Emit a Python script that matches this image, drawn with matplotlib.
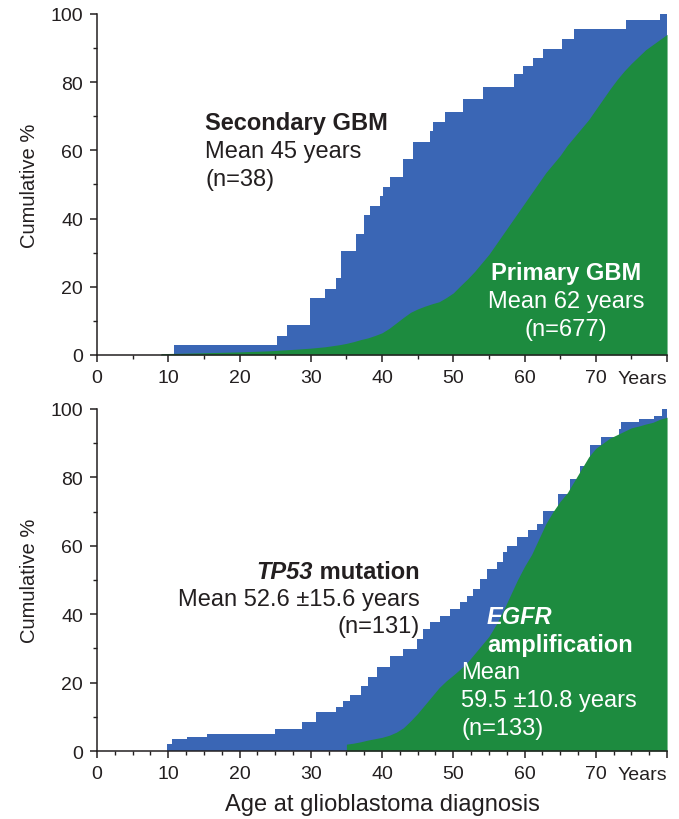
"""Cumulative age distribution of glioblastoma subtypes (two stacked panels)."""

import matplotlib

matplotlib.use("Agg")
import matplotlib.pyplot as plt
from matplotlib.ticker import MultipleLocator

plt.rcParams["font.family"] = ["Liberation Sans", "DejaVu Sans"]

BLUE = "#3a66b5"
GREEN = "#1d8b3f"
INK = "#231f20"
ANNOT = 17

# --- top panel: secondary GBM (blue, step) and primary GBM (green) ---
secondary_age = [0, 10.8, 25.2, 26.6, 29.9, 32.0, 33.6, 34.3, 36.4, 37.4, 38.3, 39.7,
                 40.2, 41.1, 42.9, 44.4, 46.7, 47.2, 48.8, 51.4, 54.2, 58.5, 59.8,
                 61.2, 62.6, 65.2, 66.9, 74.3, 79.0, 80]
secondary_pct = [0, 2.9, 5.6, 8.8, 16.7, 19.4, 22.6, 30.4, 35.5, 40.9, 43.8, 46.7,
                 49.2, 52.1, 57.5, 62.4, 65.8, 68.2, 71.2, 75.0, 78.5, 82.3, 84.8,
                 87.2, 89.6, 92.6, 95.5, 98.1, 100, 100]

primary_age = [0, 8.9, 9, 12, 16, 20, 24, 28, 30, 32, 34, 35, 36, 37, 38, 39, 40, 41,
               42, 43, 44, 45, 46, 47, 48, 49, 50, 51, 52, 53, 54, 55, 56, 57, 58, 59,
               60, 61, 62, 63, 64, 65, 66, 67, 68, 69, 70, 71, 72, 73, 74, 75, 76, 77,
               78, 79, 80]
primary_pct = [0, 0, 0.4, 0.5, 0.7, 0.9, 1.2, 1.7, 2.0, 2.4, 3.0, 3.4, 3.9, 4.5, 5.0,
               5.7, 6.5, 7.8, 9.4, 11.0, 12.5, 13.5, 14.3, 15.0, 15.6, 16.8, 18.2,
               20.3, 22.3, 24.5, 27.0, 29.5, 32.5, 35.5, 38.5, 41.5, 44.5, 47.5, 50.5,
               53.5, 56.0, 58.5, 61.5, 64.0, 66.5, 69.0, 72.0, 75.0, 78.0, 80.8, 83.3,
               85.5, 87.5, 89.5, 91.0, 92.5, 94.0]

# --- bottom panel: TP53 mutation (blue, step) and EGFR amplification (green) ---
tp53_age = [0, 9.8, 10.5, 12.6, 15.4, 25.0, 28.7, 30.8, 33.5, 34.5, 35.5, 37.0, 38.0,
            39.3, 41.1, 43.0, 44.9, 45.8, 46.7, 48.1, 49.5, 50.9, 51.9, 52.8, 53.8,
            54.7, 56.1, 57.0, 57.5, 58.9, 60.5, 61.7, 62.6, 64.7, 66.4, 67.8, 69.2,
            70.8, 73.2, 73.6, 76.0, 78.1, 79.3, 80]
tp53_pct = [0, 2.0, 3.5, 4.0, 5.0, 6.4, 8.4, 11.3, 13.0, 14.5, 16.5, 19.0, 21.5, 24.5,
            27.9, 29.8, 32.7, 35.7, 37.6, 39.6, 41.5, 43.5, 45.4, 47.4, 50.3, 53.2,
            55.2, 58.1, 60.0, 62.5, 64.5, 66.4, 70.3, 75.1, 79.5, 83.4, 89.5, 91.7,
            94.2, 96.1, 97.1, 98.0, 100, 100]

egfr_age = [0, 35, 35, 36, 37, 38, 39, 40, 41, 42, 43, 44, 45, 46, 47, 48, 49, 50, 51,
            52, 53, 54, 55, 56, 57, 58, 59, 60, 61, 62, 63, 64, 65, 66, 67, 68, 69, 70,
            71, 72, 73, 74, 75, 76, 77, 78, 79, 80]
egfr_pct = [0, 0, 2.0, 2.3, 2.7, 3.2, 3.6, 4.0, 4.6, 5.5, 6.8, 8.8, 11.0, 13.5, 16.0,
            18.5, 20.5, 22.2, 24.0, 26.0, 28.5, 31.0, 33.5, 37.0, 41.0, 45.5, 50.0,
            54.0, 57.5, 62.0, 66.5, 70.0, 73.0, 75.5, 79.0, 82.5, 86.0, 88.5, 90.0,
            91.5, 92.5, 93.5, 94.5, 95.0, 95.6, 96.1, 97.0, 97.6]

x_ticks = [0, 10, 20, 30, 40, 50, 60, 70]


def style_axis(ax, x_minor):
    ax.set_xlim(0, 80)
    ax.set_ylim(0, 100)
    for side in ("top", "right"):
        ax.spines[side].set_visible(False)
    for side in ("left", "bottom"):
        ax.spines[side].set_linewidth(1.1)
        ax.spines[side].set_color(INK)
    ax.set_xticks(x_ticks + [80])
    ax.set_xticklabels([str(t) for t in x_ticks] + [""])
    ax.xaxis.set_minor_locator(MultipleLocator(x_minor))
    ax.set_yticks([0, 20, 40, 60, 80, 100])
    ax.yaxis.set_minor_locator(MultipleLocator(10))
    ax.tick_params(which="major", direction="out", length=5, width=1.1, labelsize=14,
                   colors=INK, pad=5)
    ax.tick_params(which="minor", direction="out", length=3, width=1.0, colors=INK)
    ax.set_ylabel("Cumulative %", fontsize=14.5, color=INK, labelpad=8)
    ax.text(80, -0.045, "Years", transform=ax.get_xaxis_transform(), ha="right",
            va="top", fontsize=14, color=INK)


fig = plt.figure(figsize=(6.79, 8.2), dpi=100)
ax_top = fig.add_axes([0.1429, 0.5659, 0.8395, 0.4159])
ax_bot = fig.add_axes([0.1429, 0.0829, 0.8395, 0.4171])

ax_top.fill_between(secondary_age, secondary_pct, step="post", color=BLUE, lw=0)
ax_top.fill_between(primary_age, primary_pct, color=GREEN, lw=0)
style_axis(ax_top, 5)

ax_top.text(15.2, 68.2, "Secondary GBM", fontsize=ANNOT, fontweight="bold", color=INK,
            va="center")
ax_top.text(15.2, 59.9, "Mean 45 years", fontsize=ANNOT, color=INK, va="center")
ax_top.text(15.2, 51.6, "(n=38)", fontsize=ANNOT, color=INK, va="center")
ax_top.text(65.8, 24.3, "Primary GBM", fontsize=ANNOT, fontweight="bold", color="white",
            ha="center", va="center")
ax_top.text(65.8, 15.9, "Mean 62 years", fontsize=ANNOT, color="white", ha="center",
            va="center")
ax_top.text(65.8, 7.6, "(n=677)", fontsize=ANNOT, color="white", ha="center",
            va="center")

ax_bot.fill_between(tp53_age, tp53_pct, step="post", color=BLUE, lw=0)
ax_bot.fill_between(egfr_age, egfr_pct, color=GREEN, lw=0)
style_axis(ax_bot, 2.5)
ax_bot.set_xlabel("Age at glioblastoma diagnosis", fontsize=ANNOT, color=INK,
                  labelpad=8)

mut = ax_bot.text(45.3, 52.6, " mutation", fontsize=ANNOT, fontweight="bold", color=INK,
                  ha="right", va="center")
ax_bot.annotate("TP53", xy=(0, 0), xycoords=mut, ha="right", va="bottom",
                fontsize=ANNOT, fontweight="bold", style="italic", color=INK)
ax_bot.text(45.3, 44.4, "Mean 52.6 \u00b115.6 years", fontsize=ANNOT, color=INK,
            ha="right", va="center")
ax_bot.text(45.3, 36.5, "(n=131)", fontsize=ANNOT, color=INK, ha="right", va="center")

ax_bot.text(54.7, 39.2, "EGFR", fontsize=ANNOT, fontweight="bold", style="italic",
            color="white", va="center")
ax_bot.text(54.7, 31.0, "amplification", fontsize=ANNOT, fontweight="bold",
            color="white", va="center")
ax_bot.text(51.1, 23.1, "Mean", fontsize=ANNOT, color="white", va="center")
ax_bot.text(51.1, 14.9, "59.5 \u00b110.8 years", fontsize=ANNOT, color="white",
            va="center")
ax_bot.text(51.1, 6.7, "(n=133)", fontsize=ANNOT, color="white", va="center")

fig.savefig("out.png", dpi=100, facecolor="white")
plt.close(fig)
